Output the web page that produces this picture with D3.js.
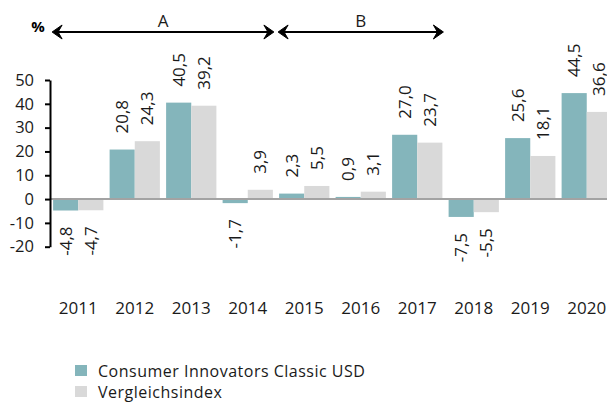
<!DOCTYPE html>
<html>
<head>
<meta charset="utf-8">
<script src="https://cdn.jsdelivr.net/npm/d3@7"></script>
<style>
  body { margin: 0; background: #fff; }
  text { font-family: "Open Sans", sans-serif; fill: #1a1a1a; }
</style>
</head>
<body>
<div class="chart"></div>
<script>
var width = 607, height = 403;

var years = ["2011", "2012", "2013", "2014", "2015", "2016", "2017", "2018", "2019", "2020"];
var fundValues = [-4.8, 20.8, 40.5, -1.7, 2.3, 0.9, 27.0, -7.5, 25.6, 44.5];
var indexValues = [-4.7, 24.3, 39.2, 3.9, 5.5, 3.1, 23.7, -5.5, 18.1, 36.6];
var seriesNames = ["Consumer Innovators Classic USD", "Vergleichsindex"];
var seriesColors = ["#84b5bb", "#d9d9d9"];
var yTicks = [-20, -10, 0, 10, 20, 30, 40, 50];
var periodLabels = ["A", "B"];
var periodFrom = ["2011", "2015"];
var periodTo = ["2014", "2017"];

var svg = d3.select(".chart")
  .append("svg")
    .attr("width", width)
    .attr("height", height);

var x = d3.scaleBand()
  .domain(years)
  .range([50, 615])
  .paddingInner(0.11)
  .paddingOuter(0.055);

var sub = d3.scaleBand()
  .domain([0, 1])
  .range([0, x.bandwidth()]);

var y = d3.scaleLinear()
  .domain([-20, 50])
  .range([246.7, 80]);

var de = d3.formatLocale({decimal: ",", thousands: ".", grouping: [3], currency: ["", ""], minus: "-"});
var comma = de.format(".1f");
var intFmt = de.format("d");

var rows = years.map(function(yr, i) {
  return [{year: yr, s: 0, v: fundValues[i]}, {year: yr, s: 1, v: indexValues[i]}];
});

var groups = svg.selectAll(".yr")
  .data(rows)
  .enter().append("g")
    .attr("transform", function(d) { return "translate(" + x(d[0].year) + ",0)"; });

groups.selectAll("rect")
  .data(function(d) { return d; })
  .enter().append("rect")
    .attr("x", function(d) { return sub(d.s); })
    .attr("width", sub.bandwidth())
    .attr("y", function(d) { return y(Math.max(0, d.v)); })
    .attr("height", function(d) { return Math.abs(y(d.v) - y(0)); })
    .style("fill", function(d) { return seriesColors[d.s]; });

// value labels, rotated
groups.selectAll("text")
  .data(function(d) { return d; })
  .enter().append("text")
    .attr("transform", function(d) {
      var cx = sub(d.s) + sub.bandwidth() / 2;
      var cy = d.v >= 0 ? y(d.v) - 16 : y(d.v) + 16;
      return "translate(" + cx + "," + cy + ") rotate(-90)";
    })
    .attr("dy", "0.35em")
    .attr("text-anchor", function(d) { return d.v >= 0 ? "start" : "end"; })
    .style("font-size", "17px")
    .text(function(d) { return comma(d.v); });

// zero line
svg.append("line")
  .attr("x1", 50).attr("x2", width)
  .attr("y1", y(0)).attr("y2", y(0))
  .style("stroke", "#a3a3a3")
  .style("stroke-width", 2);

var yAxis = svg.append("g")
  .attr("transform", "translate(50,0)")
  .call(d3.axisLeft(y).tickValues(yTicks).tickFormat(intFmt)
    .tickSize(5).tickSizeOuter(0).tickPadding(11));
yAxis.select(".domain").style("stroke", "#000").style("stroke-width", 2);
yAxis.selectAll(".tick line").style("stroke", "#000").style("stroke-width", 2);
yAxis.selectAll(".tick text")
  .style("font-family", "'Open Sans', sans-serif")
  .style("font-size", "16.5px")
  .style("fill", "#1a1a1a");

// year labels
svg.selectAll(".year")
  .data(years)
  .enter().append("text")
    .attr("x", function(d) { return x(d) + x.bandwidth() / 2; })
    .attr("y", 314)
    .attr("text-anchor", "middle")
    .style("font-size", "17px")
    .text(function(d) { return d; });

// "%" unit
svg.append("text")
  .attr("x", 38).attr("y", 32)
  .attr("text-anchor", "middle")
  .style("font-size", "15px")
  .style("font-weight", "bold")
  .style("fill", "#000")
  .text("%");

// period arrows
var ay = 32;
function head(tip, dir) {
  return "M" + tip + "," + ay +
    "L" + (tip - dir * 10) + "," + (ay - 7) +
    "L" + (tip - dir * 6) + "," + ay +
    "L" + (tip - dir * 10) + "," + (ay + 7) + "Z";
}
periodLabels.forEach(function(lbl, i) {
  var x0 = x(periodFrom[i]) - 1;
  var x1 = x(periodTo[i]) + x.bandwidth() + 1;
  svg.append("line")
    .attr("x1", x0 + 4).attr("x2", x1 - 4)
    .attr("y1", ay).attr("y2", ay)
    .style("stroke", "#000").style("stroke-width", 2);
  svg.append("path").attr("d", head(x0, -1))
    .style("fill", "#000").style("stroke", "#000").style("stroke-width", 1);
  svg.append("path").attr("d", head(x1, 1))
    .style("fill", "#000").style("stroke", "#000").style("stroke-width", 1);
  svg.append("text")
    .attr("x", (x0 + x1) / 2).attr("y", 27)
    .attr("text-anchor", "middle")
    .style("font-size", "17px")
    .text(lbl);
});

// legend
var legend = svg.selectAll(".legend")
  .data(seriesNames)
  .enter().append("g")
    .attr("transform", function(d, i) { return "translate(75," + (365 + i * 21) + ")"; });
legend.append("rect")
  .attr("width", 12).attr("height", 11)
  .style("fill", function(d, i) { return seriesColors[i]; });
legend.append("text")
  .attr("x", 23).attr("y", 12)
  .style("font-size", "16px")
  .style("letter-spacing", "0.5px")
  .text(function(d) { return d; });
</script>
</body>
</html>
